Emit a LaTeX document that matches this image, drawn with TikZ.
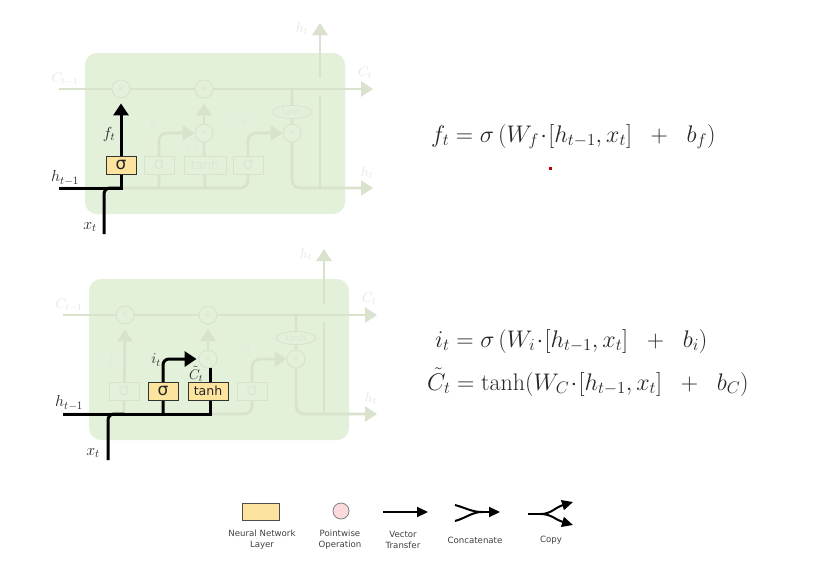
\RequirePackage{fix-cm}
\documentclass[tikz,border=0pt]{standalone}
\usepackage{fontspec}
\newfontfamily\labelfont{DejaVu Sans}
\usetikzlibrary{arrows.meta,shapes.geometric,calc}
\definecolor{panelgreen}{HTML}{E3F0DA}
\definecolor{fadeline}{HTML}{D8E2CC}
\definecolor{fadetext}{HTML}{DDE6D3}
\definecolor{fadelabel}{HTML}{E4E8DE}
\definecolor{layeryellow}{HTML}{FCE39E}
\definecolor{oppink}{HTML}{FBDADC}
\pgfdeclarelayer{panel}
\pgfdeclarelayer{wires}
\pgfsetlayers{panel,wires,main}
\newcommand{\tsize}[1]{\fontsize{#1}{#1}\selectfont}
\tikzset{
  x=1pt, y=-1pt,
  panelbox/.style={fill=panelgreen, rounded corners=12pt, draw=none},
  fadewire/.style={draw=fadeline, line width=2.6pt, rounded corners=8pt},
  fadearrow/.style={fadewire, -{Triangle[length=12pt,width=15pt]}},
  blackwire/.style={draw=black, line width=3pt, rounded corners=6pt},
  blackarrow/.style={blackwire, -{Triangle[length=12pt,width=15pt]}},
  fadeop/.style={circle, draw=fadeline, line width=0.8pt, fill=panelgreen, minimum size=18pt, inner sep=0pt, text=fadetext, font=\labelfont\tsize{9}},
  fadelayer/.style={rectangle, draw=fadeline, line width=0.9pt, fill=panelgreen, minimum height=18pt, inner sep=0pt, text=fadetext, font=\labelfont\tsize{12.5}},
  hotlayer/.style={rectangle, draw=black!80, line width=0.9pt, fill=layeryellow, minimum height=18pt, inner sep=0pt, text=black!85, font=\labelfont\tsize{12.5}},
  sigmark/.style={font=\labelfont\tsize{17}},
  fadeoval/.style={ellipse, draw=fadeline, line width=0.8pt, fill=panelgreen, minimum width=40pt, minimum height=13pt, inner sep=0pt, text=fadetext, font=\labelfont\tsize{9}},
  fadetag/.style={text=fadelabel, inner sep=0pt, font=\tsize{14}},
  hottag/.style={text=black!85, inner sep=0pt, font=\tsize{16}},
  eqn/.style={anchor=base west, inner sep=0pt, text=black!85, font=\tsize{24}},
  legendtag/.style={align=center, inner sep=0pt, text=black!75, font=\labelfont\tsize{8.6}},
  legendwire/.style={draw=black, line width=2pt},
  legendtip/.style={-{Triangle[length=11pt,width=10pt]}},
}
% Parts of the memory cell that stay pale in both panels
\newcommand{\cellbase}{%
  \begin{pgfonlayer}{panel}
    \fill[panelbox] (0,0) rectangle (260,161);
  \end{pgfonlayer}
  \coordinate (cin) at (-26,36);
  \coordinate (cout) at (288,36);
  \coordinate (hin) at (-26,135);
  \coordinate (hout) at (288,135);
  \coordinate (hup) at (235,135);
  \coordinate (hgap) at (235,43);
  \coordinate (hgapb) at (235,25);
  \coordinate (htip) at (235,-30);
  \coordinate (xin) at (19,181);
  \node[fadeop] (forget) at (36,36) {×};
  \node[fadeop] (plus) at (119,36) {+};
  \node[fadeop] (mulc) at (119,80) {×};
  \node[fadeop] (mulo) at (207,80) {×};
  \node[fadeoval] (otanh) at (207,59) {tanh};
  \node[fadelayer, sigmark, minimum width=30pt] (sigo) at (163,112) {σ};
  \node[fadetag] at (-20,26) {$C_{t-1}$};
  \node[fadetag] at (280,20) {$C_t$};
  \node[fadetag] at (217,-24) {$h_t$};
  \node[fadetag] at (282,120) {$h_t$};
  \node[fadetag, font=\tsize{12}] at (157,69) {$o_t$};
  \begin{pgfonlayer}{wires}
    \draw[fadearrow] (cin) -- (cout);
    \draw[fadewire] (hup) -- (hgap);
    \draw[fadearrow] (hgapb) -- (htip);
    \draw[fadearrow] (mulo |- cin) |- (hout);
    \draw[fadewire] (hin) -| (sigo);
    \draw[fadearrow] (sigo) |- (mulo.west);
    \draw[fadearrow, shorten >=5pt] (mulc.north) -- (plus.south);
  \end{pgfonlayer}
}
\begin{document}
\begin{tikzpicture}
\begin{pgfonlayer}{panel}
  \fill[white] (0,0) rectangle (814,579);
\end{pgfonlayer}
\useasboundingbox (0,0) rectangle (814,579);

% Forget gate panel
\begin{scope}[shift={(85,53)}, name prefix=a-]
  \cellbase
  \node[hotlayer, sigmark, minimum width=30pt] (sigf) at (36,112) {σ};
  \node[fadelayer, sigmark, minimum width=30pt] (sigi) at (74,112) {σ};
  \node[fadelayer, minimum width=42pt] (tanh) at (120,112) {tanh};
  \node[fadetag, font=\tsize{12}] at (69,71) {$i_t$};
  \node[fadetag, font=\tsize{12}] at (108,93) {$\tilde{C}_t$};
  \node[hottag] at (24,81) {$f_t$};
  \node[hottag, anchor=west] at (-34,125) {$h_{t-1}$};
  \node[hottag] at (5,174) {$x_t$};
  \begin{pgfonlayer}{wires}
    \draw[fadearrow] (sigi |- hin) |- (mulc.west);
    \draw[fadewire] (tanh |- hin) -- (mulc.south);
    \draw[blackarrow, shorten >=5pt, rounded corners=0pt] (hin) -| (forget.south);
    \draw[blackwire] (xin) |- (sigf |- hin);
  \end{pgfonlayer}
\end{scope}

% Input gate panel
\begin{scope}[shift={(89,279)}, name prefix=b-]
  \cellbase
  \coordinate (ctop) at (121,88);
  \node[fadelayer, sigmark, minimum width=30pt] (sigf) at (35,112) {σ};
  \node[hotlayer, sigmark, minimum width=30pt] (sigi) at (74,112) {σ};
  \node[hotlayer, minimum width=40pt] (tanh) at (119,112) {tanh};
  \node[fadetag, font=\tsize{12}] at (23,81) {$f_t$};
  \node[hottag, font=\tsize{15}] at (67,81) {$i_t$};
  \node[hottag, font=\tsize{14}] at (107,95) {$\tilde{C}_t$};
  \node[hottag, anchor=west] at (-34,124) {$h_{t-1}$};
  \node[hottag] at (4,174) {$x_t$};
  \begin{pgfonlayer}{wires}
    \draw[fadearrow, shorten >=5pt] (sigf |- hin) -- (forget.south);
    \draw[blackwire, rounded corners=0pt] (hin) -| (ctop);
    \draw[blackarrow] (sigi |- hin) |- ([xshift=-2pt]mulc.west);
    \draw[blackwire] (xin) |- (sigf |- hin);
  \end{pgfonlayer}
\end{scope}

% Equations
\node[eqn] (eqf) at (431,142) {$f_t = \sigma\,(W_f\!\cdot\![h_{t-1}, x_t]\;\; +\;\; b_f)$};
\node[eqn] (eqi) at (435,347) {$i_t = \sigma\,(W_i\!\cdot\![h_{t-1}, x_t]\;\; +\;\; b_i)$};
\node[eqn] (eqc) at (427,390) {$\tilde{C}_t = \tanh(W_C\!\cdot\![h_{t-1}, x_t]\;\; +\;\; b_C)$};
\fill[red!75!black] (549,167) rectangle (552,170);

% Legend
\node[rectangle, draw=black!70, line width=1pt, fill=layeryellow, minimum width=37pt, minimum height=17pt, inner sep=0pt] (lbox) at (260.5,511.5) {};
\node[circle, draw=black!50, line width=0.8pt, fill=oppink, minimum size=16pt, inner sep=0pt] (lop) at (341,511) {};
\node[legendtag] (ltone) at (262,540) {Neural Network\\[2.5pt]Layer};
\node[legendtag] (lttwo) at (340,540) {Pointwise\\[2.5pt]Operation};
\node[legendtag] (ltthree) at (403,540) {Vector\\[2.5pt]Transfer};
\node[legendtag] (ltfour) at (475,540) {Concatenate};
\node[legendtag] (ltfive) at (551,540) {Copy};
\coordinate (va) at (383,512);
\coordinate (vb) at (428,512);
\coordinate (ca) at (455,505);
\coordinate (cb) at (455,521);
\coordinate (cm) at (482,512);
\coordinate (cc) at (500,512);
\coordinate (pa) at (528,514);
\coordinate (pm) at (541,514);
\coordinate (pb) at (573,502);
\coordinate (pc) at (573,525);
\draw[legendwire, legendtip] (va) -- (vb);
\draw[legendwire] (ca) .. controls (466,508) and (472,512) .. (cm);
\draw[legendwire] (cb) .. controls (466,518) and (472,512) .. (cm);
\draw[legendwire, legendtip] (cm) -- (cc);
\draw[legendwire] (pa) -- (pm);
\draw[legendwire, legendtip] (pm) .. controls (551,514) and (556,507) .. (pb);
\draw[legendwire, legendtip] (pm) .. controls (551,514) and (556,520) .. (pc);
\end{tikzpicture}
\end{document}
